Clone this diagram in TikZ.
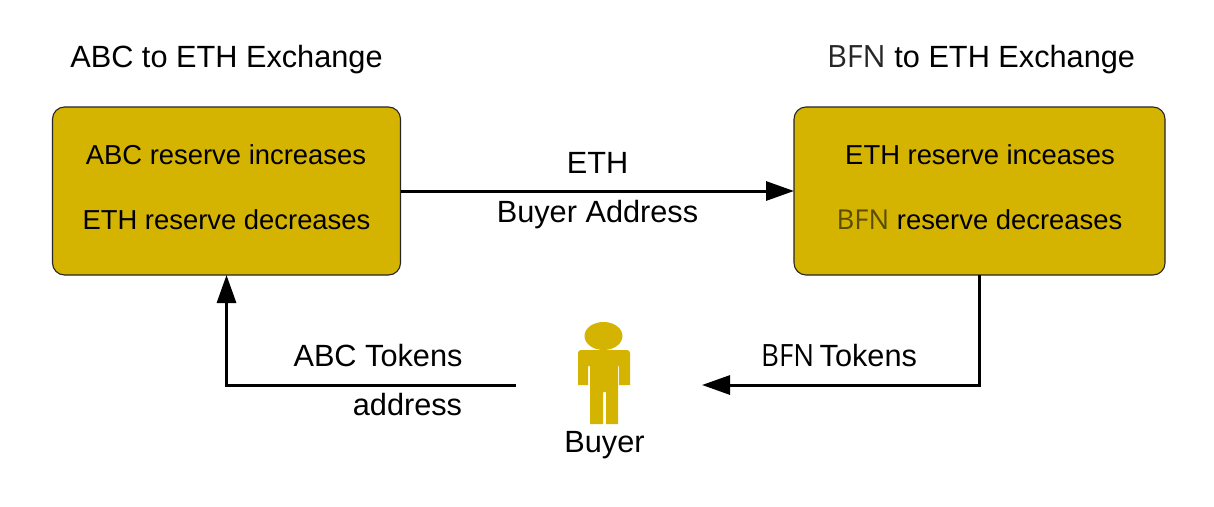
\documentclass[tikz,border=0pt]{standalone}
\usepackage{fontspec}
\setmainfont{Liberation Sans}
\newfontfamily\bfnfont{Open Sans}
\newfontfamily\bfnnarrow[FakeStretch=0.9]{Open Sans}
\usetikzlibrary{arrows.meta}
\definecolor{boxgold}{HTML}{D4B400}
\definecolor{bfnbox}{HTML}{5A4C00}
\definecolor{bfnhead}{HTML}{262626}
\tikzset{
  x=1pt,y=-1pt,
  exchange/.style={draw=black!85,line width=1.1pt,fill=boxgold,rounded corners=12pt,inner sep=0pt,outer sep=0pt},
  flow/.style={line width=3pt,-{Triangle[length=28pt,width=19pt]},line join=miter},
  lab/.style={font=\fontsize{30.7}{34}\selectfont,inner sep=0pt,anchor=base,text=black},
  boxlab/.style={font=\fontsize{27.4}{30}\selectfont,inner sep=0pt,anchor=base,text=black},
  person/.style={fill=boxgold,draw=none}
}
\begin{document}
\begin{tikzpicture}
\useasboundingbox (0,0) rectangle (1214,506);
\fill[white] (0,0) rectangle (1214,506);
\node[exchange,minimum width=348pt,minimum height=168pt] (abc) at (226.5,191) {};
\node[exchange,minimum width=371pt,minimum height=168pt] (bfn) at (979.5,191) {};
\node[lab] (t1) at (226.5,67) {ABC to ETH Exchange};
\node[lab] (t2) at (981,67) {{\bfnfont\color{bfnhead}BFN} to ETH Exchange};
\node[boxlab] (a1) at (226,164) {ABC reserve increases};
\node[boxlab] (a2) at (226.5,229) {ETH reserve decreases};
\node[boxlab] (b1) at (980,164) {ETH reserve inceases};
\node[boxlab] (b2) at (979.5,229) {{\bfnfont\color{bfnbox}BFN} reserve decreases};
\node[lab] (eth) at (597.5,173) {ETH};
\node[lab] (addr) at (597.5,222) {Buyer Address};
\node[lab] (abct) at (378,366.7) {ABC Tokens};
\node[lab] (adr) at (407.5,415.7) {address};
\node[lab] (bfnt) at (839,366.7) {{\bfnnarrow BFN}\hspace{-3pt} Tokens};
\node[lab] (buyer) at (604.5,452) {Buyer};
% person
\fill[person] (603.5,336) ellipse [x radius=19pt,y radius=14pt];
\fill[person] (578,385) -- (578,353) arc[start angle=180,end angle=90,radius=3pt] -- (627,350) arc[start angle=90,end angle=0,radius=3pt] -- (630,385) -- (619,385) -- (619,366) -- (618,366) -- (618,424) -- (606,424) -- (606,392) -- (603,392) -- (603,424) -- (590,424) -- (590,366) -- (588,366) -- (588,385) -- cycle;
\coordinate (buyerL) at (516,385);
\coordinate (buyerR) at (702,385);
\draw[flow] (abc.east) -- (bfn.west);
\draw[flow] (bfn.south) |- (buyerR);
\draw[flow] (buyerL) -| (abc.south);
\end{tikzpicture}
\end{document}
